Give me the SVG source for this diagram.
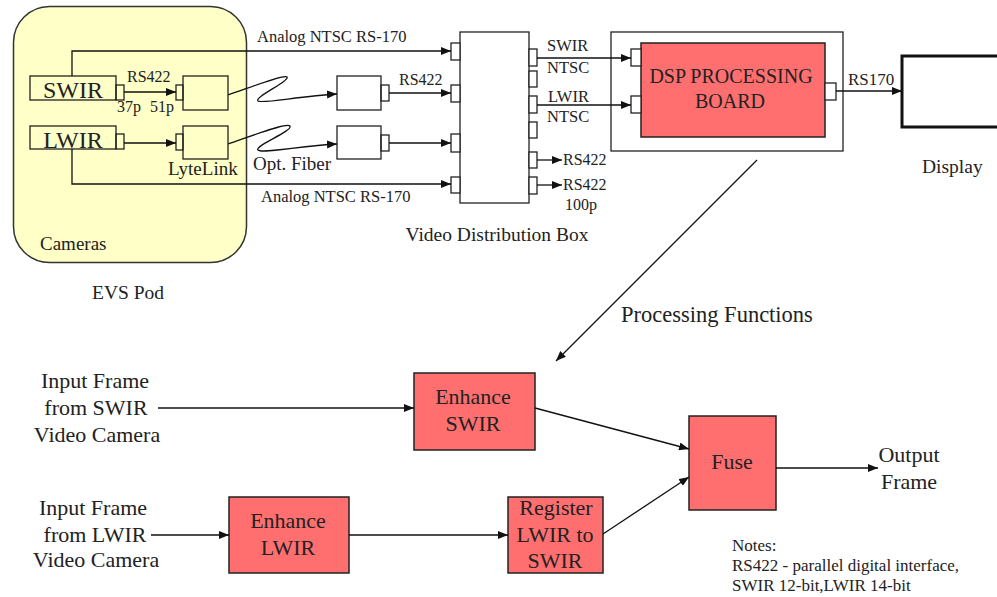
<svg xmlns="http://www.w3.org/2000/svg" width="997" height="597" viewBox="0 0 997 597">
  <style>
    text { font-family: "Liberation Serif", Tinos, "Times New Roman", "DejaVu Serif", Times, serif; fill: #222; }
    .arr { stroke: #111; stroke-width: 1.3; fill: none; marker-end: url(#ah); }
    .box { stroke: #222; stroke-width: 1.3; fill: none; }
    .wbox { stroke: #222; stroke-width: 1.3; fill: #fff; }
    .red { stroke: #222; stroke-width: 1.5; fill: #ff6f6f; }
    .s16 { font-size: 16px; }
    .s165 { font-size: 16.5px; }
    .s17 { font-size: 17px; }
    .s19 { font-size: 19px; }
    .s195 { font-size: 19.5px; }
    .s20 { font-size: 20px; }
    .s22 { font-size: 22px; }
    .s225 { font-size: 22.5px; }
    .s24 { font-size: 24px; }
    .mid { text-anchor: middle; }
  </style>
  <defs>
    <marker id="ah" markerUnits="userSpaceOnUse" markerWidth="11" markerHeight="8" refX="10" refY="4" orient="auto">
      <path d="M0,0 L10,4 L0,8 z" fill="#111"/>
    </marker>
  </defs>

  <rect width="997" height="597" fill="#fff"/>

  <!-- EVS pod with both cameras and their LyteLink transmitters -->
  <g id="evs-pod">
    <rect x="13.5" y="6.5" width="233" height="256" rx="36" ry="36" fill="#ffffc8" stroke="#333" stroke-width="1.5"/>
    <text class="s19" x="40" y="250">Cameras</text>
    <text class="s195 mid" x="128" y="299">EVS Pod</text>
  </g>
  <g id="swir-camera">
    <rect class="box" x="30" y="76" width="86" height="24"/>
    <rect class="box" x="116" y="85" width="8" height="15"/>
    <text class="s24 mid" x="73" y="98">SWIR</text>
  </g>
  <g id="lwir-camera">
    <rect class="box" x="30" y="126" width="86" height="23"/>
    <rect class="box" x="116" y="134" width="8" height="15"/>
    <text class="s24 mid" x="73" y="148">LWIR</text>
  </g>
  <g id="lytelink-swir">
    <rect class="box" x="176" y="85" width="7" height="15"/>
    <rect class="box" x="183" y="76" width="45" height="34"/>
  </g>
  <g id="lytelink-lwir">
    <rect class="box" x="176" y="134" width="7" height="16"/>
    <rect class="box" x="183" y="126" width="45" height="33"/>
    <text class="s19" x="168" y="175">LyteLink</text>
  </g>

  <!-- Fiber receivers -->
  <g id="receiver-swir">
    <rect class="box" x="337" y="76" width="44" height="34"/>
    <rect class="box" x="381" y="85" width="8" height="16"/>
  </g>
  <g id="receiver-lwir">
    <rect class="box" x="337" y="126" width="44" height="33"/>
    <rect class="box" x="381" y="135" width="8" height="16"/>
  </g>

  <!-- Video distribution box -->
  <g id="distribution-box">
    <rect class="wbox" x="460" y="32" width="69" height="171"/>
    <rect class="wbox" x="451" y="43" width="9" height="17"/>
    <rect class="wbox" x="451" y="85" width="9" height="17"/>
    <rect class="wbox" x="451" y="134" width="9" height="18"/>
    <rect class="wbox" x="451" y="177" width="9" height="16"/>
    <rect class="wbox" x="529" y="49" width="8" height="17"/>
    <rect class="wbox" x="529" y="71" width="8" height="16"/>
    <rect class="wbox" x="529" y="96" width="8" height="17"/>
    <rect class="wbox" x="529" y="122" width="8" height="16"/>
    <rect class="wbox" x="529" y="152" width="8" height="16"/>
    <rect class="wbox" x="529" y="177" width="8" height="17"/>
    <text class="s195 mid" x="497" y="241">Video Distribution Box</text>
  </g>

  <!-- DSP processing board in its enclosure -->
  <g id="dsp-board">
    <rect class="box" x="611" y="32" width="232" height="119"/>
    <rect class="red" x="641" y="43" width="184" height="94"/>
    <rect class="wbox" x="631" y="49" width="10" height="17"/>
    <rect class="wbox" x="631" y="96" width="10" height="17"/>
    <rect class="wbox" x="825" y="83" width="11" height="17"/>
    <text class="s20 mid" x="731" y="83">DSP PROCESSING</text>
    <text class="s20 mid" x="730" y="108">BOARD</text>
  </g>

  <g id="display">
    <rect x="902" y="56" width="130" height="71" fill="#fff" stroke="#111" stroke-width="3"/>
    <text class="s195" x="922" y="173">Display</text>
  </g>

  <!-- Processing chain -->
  <g id="enhance-swir">
    <rect class="red" x="414" y="373" width="121" height="77"/>
    <text class="s22 mid" x="473" y="404">Enhance</text>
    <text class="s22 mid" x="473" y="431">SWIR</text>
  </g>
  <g id="enhance-lwir">
    <rect class="red" x="229" y="497" width="120" height="76"/>
    <text class="s22 mid" x="288" y="528">Enhance</text>
    <text class="s22 mid" x="288" y="555">LWIR</text>
  </g>
  <g id="register">
    <rect class="red" x="508" y="497" width="95" height="76"/>
    <text class="s22 mid" x="556" y="515">Register</text>
    <text class="s22 mid" x="555" y="542">LWIR to</text>
    <text class="s22 mid" x="555" y="568">SWIR</text>
  </g>
  <g id="fuse">
    <rect class="red" x="689" y="416" width="87" height="94"/>
    <text class="s22 mid" x="732" y="469">Fuse</text>
  </g>
  <g id="labels">
    <text class="s22 mid" x="95" y="388">Input Frame</text>
    <text class="s22 mid" x="96" y="415">from SWIR</text>
    <text class="s22 mid" x="97" y="442">Video Camera</text>
    <text class="s22 mid" x="93" y="515">Input Frame</text>
    <text class="s22 mid" x="95" y="542">from LWIR</text>
    <text class="s22 mid" x="96" y="567">Video Camera</text>
    <text class="s22 mid" x="909" y="462">Output</text>
    <text class="s22 mid" x="909" y="489">Frame</text>
    <text class="s225" x="621" y="322">Processing Functions</text>
  </g>
  <g id="notes">
    <text class="s17" x="732" y="551">Notes:</text>
    <text class="s17" x="732" y="571">RS422 - parallel digital interface,</text>
    <text class="s17" x="732" y="591">SWIR 12-bit,LWIR 14-bit</text>
  </g>

  <!-- Connectors -->
  <g id="connectors">
    <polyline class="arr" points="72,76 72,51 451,51"/>
    <polyline class="arr" points="72,149 72,184 451,184"/>
    <line class="arr" x1="124" y1="92" x2="176" y2="92"/>
    <line class="arr" x1="124" y1="143" x2="176" y2="143"/>
    <path class="arr" d="M228,95 C246,89 284,74 287,77 C290,81 254,97 258,101 C262,104 300,96 337,94"/>
    <path class="arr" d="M228,144 C246,138 287,122 290,126 C293,131 254,146 258,150 C262,154 300,146 337,144"/>
    <line class="arr" x1="389" y1="93" x2="451" y2="93"/>
    <line class="arr" x1="389" y1="143" x2="451" y2="143"/>
    <line class="arr" x1="537" y1="58" x2="631" y2="58"/>
    <line class="arr" x1="537" y1="105" x2="631" y2="105"/>
    <line class="arr" x1="537" y1="160" x2="562" y2="160"/>
    <line class="arr" x1="537" y1="185" x2="562" y2="185"/>
    <line class="arr" x1="836" y1="91" x2="902" y2="91"/>
    <line class="arr" x1="757" y1="160" x2="556" y2="361"/>
    <line class="arr" x1="158" y1="408" x2="414" y2="408"/>
    <line class="arr" x1="151" y1="535" x2="229" y2="535"/>
    <line class="arr" x1="349" y1="535" x2="508" y2="535"/>
    <line class="arr" x1="535" y1="408" x2="689" y2="449"/>
    <line class="arr" x1="603" y1="534" x2="689" y2="477"/>
    <line class="arr" x1="776" y1="468" x2="878" y2="468"/>
  </g>

  <!-- Line labels -->
  <g id="line-labels">
    <text class="s165" x="257" y="42">Analog NTSC RS-170</text>
    <text class="s165" x="261" y="202">Analog NTSC RS-170</text>
    <text class="s16" x="127" y="82">RS422</text>
    <text class="s16" x="117" y="112">37p</text>
    <text class="s16" x="150" y="112">51p</text>
    <text class="s16" x="399" y="85">RS422</text>
    <text class="s19" x="253" y="170">Opt. Fiber</text>
    <text class="s165" x="547" y="51">SWIR</text>
    <text class="s165" x="547" y="73">NTSC</text>
    <text class="s165" x="548" y="102">LWIR</text>
    <text class="s165" x="547" y="122">NTSC</text>
    <text class="s16" x="563" y="165">RS422</text>
    <text class="s16" x="563" y="190">RS422</text>
    <text class="s16" x="565" y="210">100p</text>
    <text class="s17" x="848" y="85">RS170</text>
  </g>
</svg>
